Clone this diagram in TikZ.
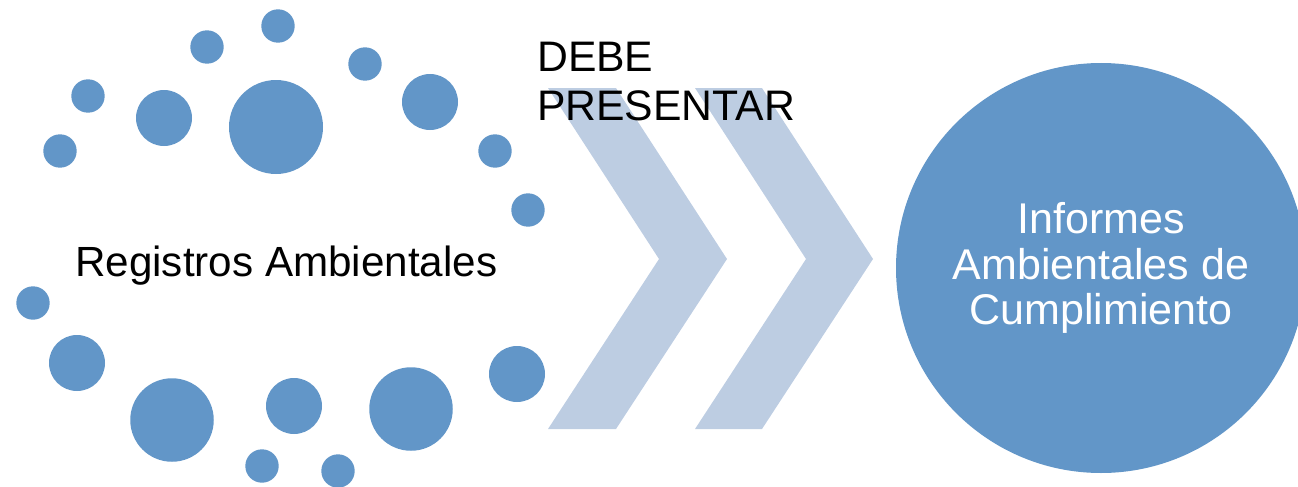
\documentclass[tikz,border=0pt]{standalone}
\usepackage{fontspec}
\setmainfont{Liberation Sans}
\definecolor{dotblue}{RGB}{98,150,200}
\definecolor{chevblue}{RGB}{189,205,226}
\tikzset{
  dot/.style={circle, fill=dotblue, draw=none, inner sep=0pt, minimum size=#1},
  chev/.style={fill=chevblue, draw=none},
  lbl/.style={inner sep=0pt, text=black}
}
\begin{document}
\begin{tikzpicture}[x=1pt,y=-1pt]
\useasboundingbox (0,0) rectangle (1298,487);
% chevrons
\fill[chev] (548,88) -- (616,88) -- (727,259) -- (616,429) -- (548,429) -- (659,259) -- cycle;
\fill[chev] (695,88) -- (762,88) -- (873,259) -- (762,429) -- (695,429) -- (806,259) -- cycle;
% dots
\foreach \x/\y/\d [count=\i] in {
  278/26/33.4, 207/47/33.4, 365/64/33.4, 88/96/33.4, 164/118/56, 276/127/94,
  430/102/56, 60/151/33.4, 495/151/33.4, 528/210/33.4, 33/303/33.4, 77/363/56,
  172/420/83.5, 294/406/56, 411/409/83.5, 517/374/56, 262/466/33.4, 338/471/33.4}
  \node[dot=\d pt] (d\i) at (\x,\y) {};
% left label
\node[lbl, anchor=base west, font=\fontsize{42.2}{48}\selectfont] (reg) at (75,276) {Registros Ambientales};
% top label
\node[lbl, anchor=north west, align=left, font=\fontsize{42.7}{49}\selectfont] (debe) at (537,41.8) {DEBE\\PRESENTAR};
% big circle
\node[dot=410pt, text=white, align=center, font=\fontsize{43}{45.5}\selectfont] (inf) at (1101,268) {Informes\\Ambientales de\\Cumplimiento};
\end{tikzpicture}
\end{document}
